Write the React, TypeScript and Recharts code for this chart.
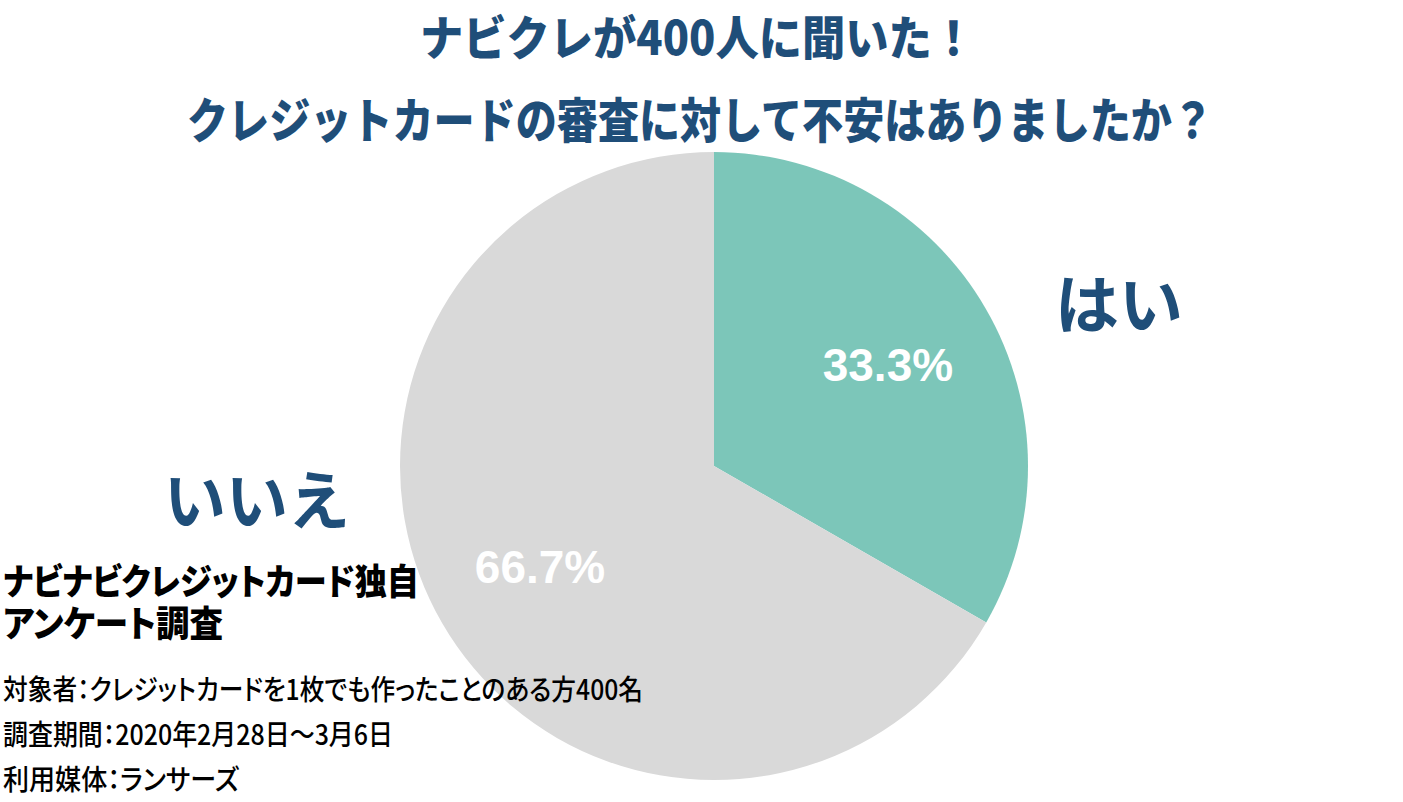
import React from "react";
import { PieChart, Pie, Cell } from "recharts";

const categories = ["はい", "いいえ"];
const values = [33.3, 66.7];
const colors = ["#7CC6B9", "#D9D9D9"];

const titleLines = ["ナビクレが400人に聞いた！", "クレジットカードの審査に対して不安はありましたか？"];
const sourceLines = ["ナビナビクレジットカード独自", "アンケート調査"];
const noteLines = [
  "対象者：クレジットカードを1枚でも作ったことのある方400名",
  "調査期間：2020年2月28日～3月6日",
  "利用媒体：ランサーズ",
];

const data = categories.map((name, i) => ({ name, value: values[i] }));

const W = 1403;
const H = 802;
const CX = 714;
const CY = 466;
const R = 314;
const RAD = Math.PI / 180;

const renderLabel = (props: any) => {
  const { cx, cy, midAngle, outerRadius, value } = props;
  const r = outerRadius * 0.64;
  const x = cx + r * Math.cos(-midAngle * RAD);
  const y = cy + r * Math.sin(-midAngle * RAD);
  return (
    <text
      x={x}
      y={y}
      fill="#FFFFFF"
      textAnchor="middle"
      dominantBaseline="central"
      style={{ fontFamily: "'Liberation Sans', Arial, sans-serif", fontWeight: 700, fontSize: 46 }}
    >
      {`${value}%`}
    </text>
  );
};

const CJK = "'Noto Sans CJK JP', 'Noto Sans', sans-serif";
const BLUE = "#1F4E79";
const plain = { fontFamily: CJK } as React.CSSProperties;
const tight = { fontFamily: CJK, fontFeatureSettings: "'palt' 1" } as React.CSSProperties;

export default function App() {
  return (
    <div style={{ position: "absolute", left: 0, top: 0, width: W, height: H, background: "#FFFFFF" }}>
      <PieChart width={W} height={H} margin={{ top: 0, right: 0, bottom: 0, left: 0 }}>
        <Pie
          data={data}
          dataKey="value"
          nameKey="name"
          cx={CX}
          cy={CY}
          outerRadius={R}
          startAngle={90}
          endAngle={-270}
          stroke="none"
          label={renderLabel}
          labelLine={false}
          isAnimationActive={false}
        >
          {data.map((d, i) => (
            <Cell key={d.name} fill={colors[i]} />
          ))}
        </Pie>
      </PieChart>
      <svg
        width={W}
        height={H}
        style={{ position: "absolute", left: 0, top: 0, pointerEvents: "none" }}
      >
        <g dominantBaseline="central">
          <text x={420} y={34} fill={BLUE} fontSize={47} fontWeight={900} textLength={555} lengthAdjust="spacingAndGlyphs" style={plain}>
            {titleLines[0]}
          </text>
          <text x={187} y={116.5} fill={BLUE} fontSize={48} fontWeight={900} textLength={1026} lengthAdjust="spacingAndGlyphs" style={plain}>
            {titleLines[1]}
          </text>
          <text x={1055} y={300} fill={BLUE} fontSize={64} fontWeight={700} textLength={128} lengthAdjust="spacingAndGlyphs" style={plain}>
            {categories[0]}
          </text>
          <text x={164} y={496} fill={BLUE} fontSize={64} fontWeight={700} textLength={186} lengthAdjust="spacingAndGlyphs" style={plain}>
            {categories[1]}
          </text>
          <text x={3} y={578.5} fill="#000000" fontSize={36} fontWeight={900} textLength={416} lengthAdjust="spacingAndGlyphs" style={tight}>
            {sourceLines[0]}
          </text>
          <text x={3} y={621} fill="#000000" fontSize={36} fontWeight={900} textLength={220} lengthAdjust="spacingAndGlyphs" style={tight}>
            {sourceLines[1]}
          </text>
          <text x={3} y={687.5} fill="#000000" fontSize={28} fontWeight={500} textLength={640} lengthAdjust="spacingAndGlyphs" style={tight}>
            {noteLines[0]}
          </text>
          <text x={3} y={732.5} fill="#000000" fontSize={28} fontWeight={500} textLength={390} lengthAdjust="spacingAndGlyphs" style={tight}>
            {noteLines[1]}
          </text>
          <text x={3} y={777.5} fill="#000000" fontSize={28} fontWeight={500} textLength={236} lengthAdjust="spacingAndGlyphs" style={tight}>
            {noteLines[2]}
          </text>
        </g>
      </svg>
    </div>
  );
}
